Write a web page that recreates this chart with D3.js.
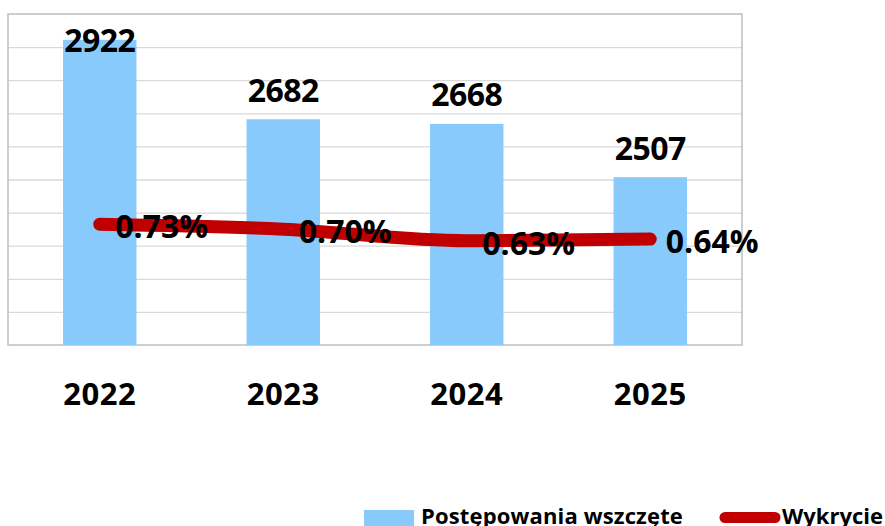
<!DOCTYPE html>
<html>
<head>
<meta charset="utf-8">
<script src="https://cdn.jsdelivr.net/npm/d3@7"></script>
<style>
  html, body { margin: 0; padding: 0; background: #fff; }
  svg { display: block; }
  text { font-family: "Open Sans", Lato, sans-serif; font-weight: bold; fill: #000; }
</style>
</head>
<body>
<script>
    // values
    const years = ["2022", "2023", "2024", "2025"];
    const cases = [2922, 2682, 2668, 2507];
    const detection = [0.73, 0.70, 0.63, 0.64];
    const caseGrid = [2100, 2200, 2300, 2400, 2500, 2600, 2700, 2800, 2900];
    const seriesNames = ["Postępowania wszczęte", "Wykrycie"];

    const W = 885, H = 526;
    const plot = {left: 8, top: 14, right: 742, bottom: 345};

    const rows = years.map(function(y, i) {
        return {year: y, cases: cases[i], rate: detection[i]};
    });

    const svg = d3.select("body").append("svg")
        .attr("width", W)
        .attr("height", H);

    var x = d3.scaleBand()
        .domain(years)
        .range([plot.left, plot.right])
        .paddingInner(0.6)
        .paddingOuter(0.3);

    var y = d3.scaleLinear()
        .domain([2000, 3000])
        .range([plot.bottom, plot.top]);

    var y2 = d3.scaleLinear()
        .domain([0, 2])
        .range([plot.bottom, plot.top]);

    // gridlines
    svg.append("g")
        .attr("class", "grid")
        .attr("transform", "translate(" + plot.left + ",0)")
        .call(d3.axisLeft(y).tickValues(caseGrid).tickSize(-(plot.right - plot.left)).tickFormat(""))
        .call(function(g) { g.select(".domain").remove(); })
        .selectAll("line")
        .attr("stroke", "#d9d9d9")
        .attr("stroke-width", 1.3);

    // plot border
    svg.append("rect")
        .attr("x", plot.left)
        .attr("y", plot.top)
        .attr("width", plot.right - plot.left)
        .attr("height", plot.bottom - plot.top)
        .attr("fill", "none")
        .attr("stroke", "#bfbfbf")
        .attr("stroke-width", 1.5);

    // bars
    svg.selectAll(".bar")
        .data(rows)
        .enter()
        .append("rect")
        .attr("class", "bar")
        .attr("x", function(d) { return x(d.year); })
        .attr("y", function(d) { return y(d.cases); })
        .attr("width", x.bandwidth())
        .attr("height", function(d) { return plot.bottom - y(d.cases); })
        .attr("fill", "#87cafb");

    // bar labels (pushed down when they'd leave the plot)
    svg.selectAll(".barLabel")
        .data(rows)
        .enter()
        .append("text")
        .attr("class", "barLabel")
        .attr("x", function(d) { return x(d.year) + x.bandwidth() / 2; })
        .attr("y", function(d) { return Math.max(y(d.cases) - 17.5, 52); })
        .attr("text-anchor", "middle")
        .attr("font-size", 32)
        .attr("letter-spacing", -0.5)
        .text(function(d) { return d.cases; });

    // detection line
    var line = d3.line()
        .x(function(d) { return x(d.year) + x.bandwidth() / 2; })
        .y(function(d) { return y2(d.rate); })
        .curve(d3.curveMonotoneX);

    svg.append("path")
        .datum(rows)
        .attr("d", line)
        .attr("fill", "none")
        .attr("stroke", "#c00000")
        .attr("stroke-width", 13)
        .attr("stroke-linecap", "round")
        .attr("stroke-linejoin", "round");

    svg.selectAll(".rateLabel")
        .data(rows)
        .enter()
        .append("text")
        .attr("class", "rateLabel")
        .attr("x", function(d) { return x(d.year) + x.bandwidth() / 2 + 15.5; })
        .attr("y", function(d) { return y2(d.rate) + 14; })
        .attr("font-size", 32)
        .text(function(d) { return d.rate.toFixed(2) + "%"; });

    // year axis
    var xAxis = svg.append("g")
        .attr("transform", "translate(0," + plot.bottom + ")")
        .call(d3.axisBottom(x).tickSize(0).tickPadding(0));
    xAxis.select(".domain").remove();
    xAxis.selectAll("text")
        .attr("y", 60)
        .attr("dy", null)
        .attr("font-size", 31)
        .attr("letter-spacing", 0.5)
        .attr("font-family", "'Open Sans', Lato, sans-serif")
        .attr("font-weight", "bold")
        .attr("fill", "#000");

    // legend
    var leg = svg.append("g");
    leg.append("rect")
        .attr("x", 364)
        .attr("y", 510)
        .attr("width", 50)
        .attr("height", 20)
        .attr("fill", "#87cafb");
    leg.append("text")
        .attr("x", 421)
        .attr("y", 524)
        .attr("font-size", 22)
        .attr("letter-spacing", 0.15)
        .text(seriesNames[0]);
    leg.append("line")
        .attr("x1", 725)
        .attr("x2", 775)
        .attr("y1", 517.5)
        .attr("y2", 517.5)
        .attr("stroke", "#c00000")
        .attr("stroke-width", 11)
        .attr("stroke-linecap", "round");
    leg.append("text")
        .attr("x", 782)
        .attr("y", 524)
        .attr("font-size", 22)
        .text(seriesNames[1]);
</script>
</body>
</html>
